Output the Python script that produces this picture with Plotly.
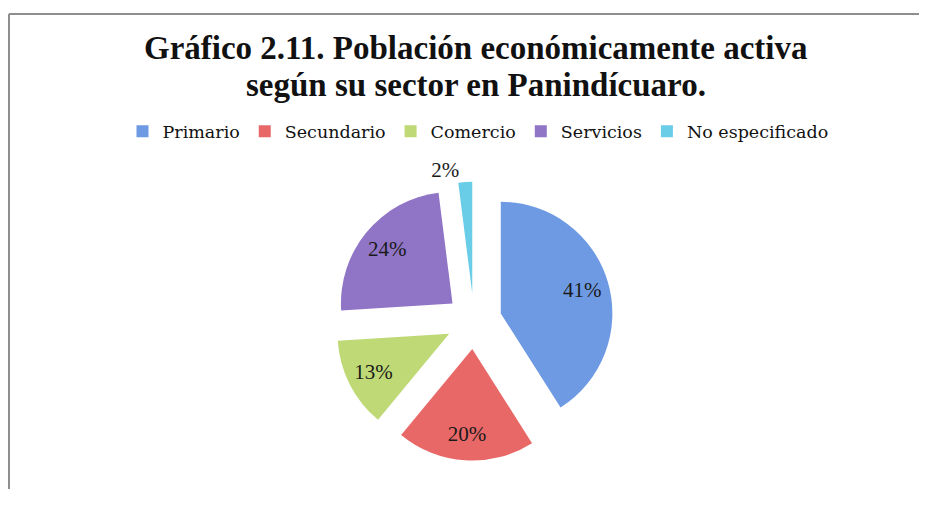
import plotly.graph_objects as go

categories = ["Primario", "Secundario", "Comercio", "Servicios", "No especificado"]
values = [41, 20, 13, 24, 2]
colors = ["#6E9AE3", "#E86868", "#BFD976", "#9074C5", "#6ACDE8"]
text_positions = ["inside", "inside", "inside", "inside", "outside"]

# page geometry: 8px body margin, and the captured page comes out squeezed vertically (~0.938)
OFF = 8
K = 0.938
W, H = 927 - 2 * OFF, 529 - 2 * OFF


def fy(page_y):
    """figure-pixel y for a wanted on-screen y"""
    return page_y / K - OFF


cx, cy = 474 - OFF, 342 - OFF
r = 119
pull = 0.25
half = r * (1 + pull)
dom = dict(x=[(cx - half) / W, (cx + half) / W],
           y=[1 - (cy + half) / H, 1 - (cy - half) / H])

fig = go.Figure()
fig.add_trace(go.Pie(
    labels=categories, values=values, sort=False, direction="clockwise", rotation=0,
    pull=[pull] * len(values),
    marker=dict(colors=colors, line=dict(width=0)),
    textinfo="none", hoverinfo="label+percent", domain=dom,
))
# transparent ring copy carrying the labels, so they sit farther out in each slice
fig.add_trace(go.Pie(
    labels=categories, values=values, sort=False, direction="clockwise", rotation=0,
    hole=0.52, pull=[pull] * len(values),
    marker=dict(colors=["rgba(0,0,0,0)"] * len(values), line=dict(width=0)),
    texttemplate="%{percent:.0%}", textposition=text_positions,
    insidetextorientation="horizontal",
    textfont=dict(family="Liberation Serif", size=21, color="#1a1a1a"),
    hoverinfo="skip", showlegend=False, domain=dom,
))

title_lines = ["Gráfico 2.11. Población económicamente activa",
               "según su sector en Panindícuaro."]
title_y = [48, 85]
ann = [dict(text=t, xref="paper", yref="paper", x=(476 - OFF) / W, y=1 - fy(yy) / H,
            xanchor="center", yanchor="middle", showarrow=False,
            font=dict(family="Liberation Serif", size=33, color="#111111", weight="bold"))
       for t, yy in zip(title_lines, title_y)]

border = dict(color="#8E8E8E", width=2)
top = 1 - fy(13.5) / H
shapes = [
    dict(type="line", xref="paper", yref="paper", x0=1 / W, x1=1, y0=top, y1=top, line=border),
    dict(type="line", xref="paper", yref="paper", x0=1 / W, x1=1 / W, y0=0, y1=top, line=border),
]

fig.update_layout(
    width=W, height=H, margin=dict(l=0, r=0, t=0, b=0),
    paper_bgcolor="white", plot_bgcolor="white",
    annotations=ann,
    legend=dict(orientation="h", x=(478 - OFF) / W, xanchor="center",
                y=1 - fy(131) / H, yanchor="middle",
                font=dict(family="DejaVu Serif", size=17.5, color="#111111"),
                itemwidth=30, traceorder="normal"),
    shapes=shapes,
)
fig.write_html("out.html")
